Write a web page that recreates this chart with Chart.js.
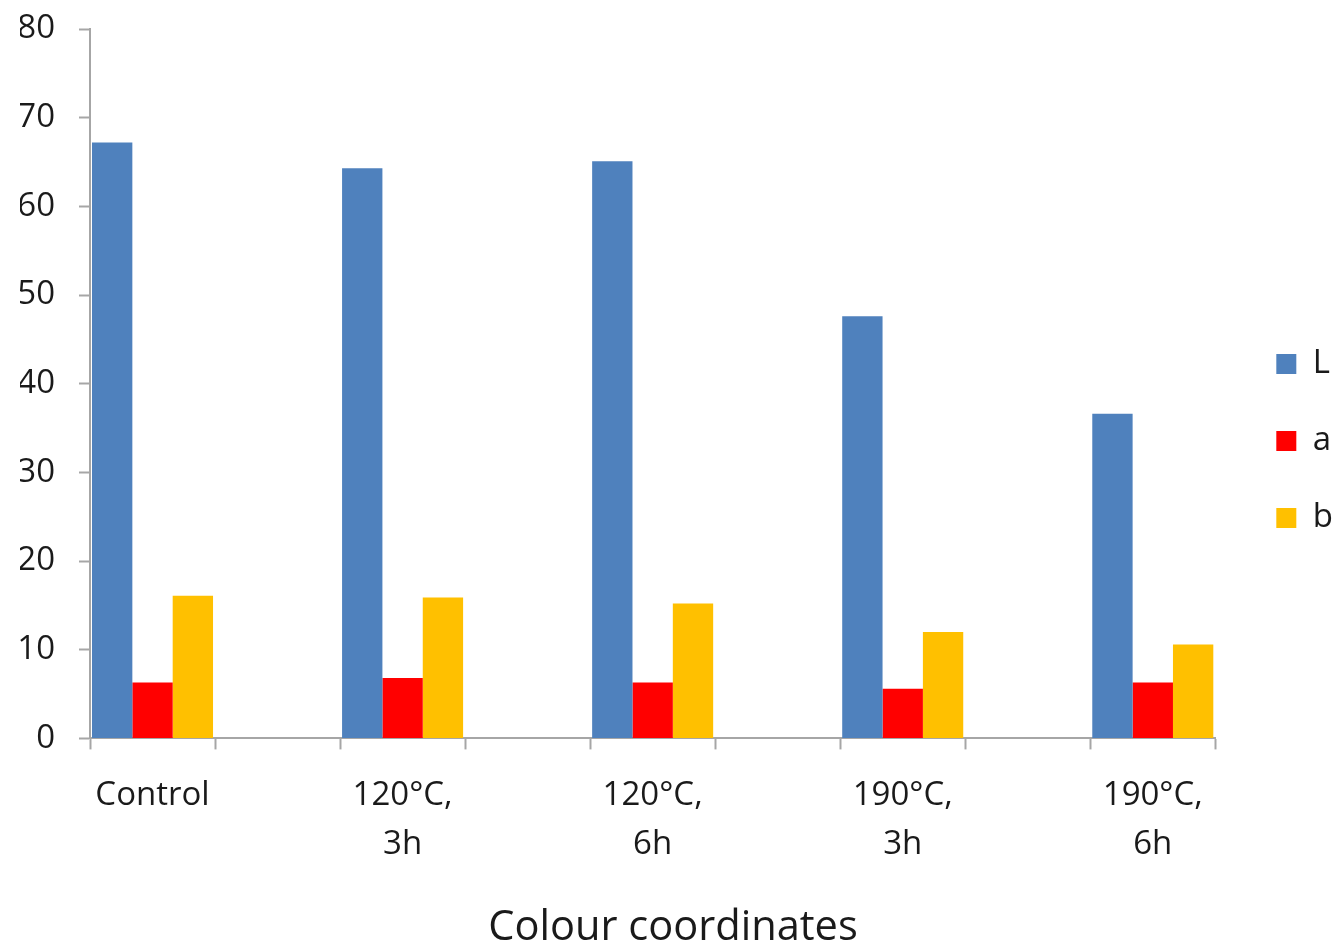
<!DOCTYPE html>
<html>
<head>
<meta charset="utf-8">
<script src="https://cdn.jsdelivr.net/npm/chart.js@4/dist/chart.umd.min.js"></script>
<style>
  html, body { margin: 0; padding: 0; background: #ffffff; }
  #wrap { width: 1332px; height: 949px; }
</style>
</head>
<body>
<div id="wrap"><canvas id="chart" width="1332" height="949"></canvas></div>
<script>
// Treatment groups (x axis)
const categories = ['Control', ['120°C,', '3h'], ['120°C,', '6h'], ['190°C,', '3h'], ['190°C,', '6h']];
// CIE colour coordinates per treatment
const seriesL = [67.2, 64.3, 65.1, 47.6, 36.6];
const seriesA = [6.3, 6.8, 6.3, 5.6, 6.3];
const seriesB = [16.1, 15.9, 15.2, 12.0, 10.6];
const yTicks = [0, 10, 20, 30, 40, 50, 60, 70, 80];

// Groups sit in every other slot, with an empty slot between neighbours
function spread(values, filler) {
  const out = [];
  values.forEach((v, i) => {
    out.push(v);
    if (i < values.length - 1) out.push(filler);
  });
  return out;
}
const slotLabels = spread(categories, '');

const FONT = "'Open Sans', 'Noto Sans', sans-serif";
const AXIS_GREY = '#A6A6A6';
const TEXT = '#1a1a1a';

// Nudges the legend block into place beside the plot
const legendShift = {
  id: 'legendShift',
  afterLayout(chart, args, opts) {
    const lg = chart.legend;
    if (!lg) return;
    lg.left += opts.dx; lg.right += opts.dx;
    lg.top += opts.dy; lg.bottom += opts.dy;
  }
};

new Chart(document.getElementById('chart'), {
  type: 'bar',
  data: {
    labels: slotLabels,
    datasets: [
      { label: 'L', data: spread(seriesL, null), backgroundColor: '#4F81BD' },
      { label: 'a', data: spread(seriesA, null), backgroundColor: '#FF0000' },
      { label: 'b', data: spread(seriesB, null), backgroundColor: '#FFC000' }
    ]
  },
  plugins: [legendShift],
  options: {
    responsive: false,
    animation: false,
    devicePixelRatio: 1,
    categoryPercentage: 0.968,
    barPercentage: 1,
    layout: { padding: { top: 29, right: 6, bottom: 0, left: 20 } },
    plugins: {
      legendShift: { dx: 17, dy: -48 },
      tooltip: { enabled: false },
      title: {
        display: true,
        position: 'bottom',
        text: 'Colour coordinates',
        color: TEXT,
        font: { family: FONT, size: 41.6, weight: 'normal', lineHeight: 1.0 },
        padding: { top: 0, bottom: 0 }
      },
      legend: {
        position: 'right',
        align: 'center',
        labels: {
          boxWidth: 20,
          boxHeight: 20,
          padding: 44,
          color: TEXT,
          font: { family: FONT, size: 33 }
        }
      }
    },
    scales: {
      x: {
        offset: true,
        grid: {
          offset: true,
          drawOnChartArea: false,
          drawTicks: true,
          tickLength: 11,
          tickWidth: 2,
          tickColor: AXIS_GREY
        },
        border: { color: AXIS_GREY, width: 2 },
        ticks: {
          autoSkip: false,
          maxRotation: 0,
          padding: 21,
          color: TEXT,
          font: { family: FONT, size: 33, lineHeight: 1.5 }
        },
        afterFit(scale) { scale.height = 169; }
      },
      y: {
        min: 0,
        max: 80,
        afterBuildTicks(scale) { scale.ticks = yTicks.map(v => ({ value: v })); },
        grid: {
          drawOnChartArea: false,
          drawTicks: true,
          tickLength: 11,
          tickWidth: 2,
          tickColor: AXIS_GREY
        },
        border: { color: AXIS_GREY, width: 2 },
        ticks: {
          padding: 24,
          color: TEXT,
          font: { family: FONT, size: 33 }
        },
        afterFit(scale) {
          scale.width = 70;
          scale.paddingTop = 0;
          scale.paddingBottom = 0;
        }
      }
    }
  }
});
</script>
</body>
</html>
